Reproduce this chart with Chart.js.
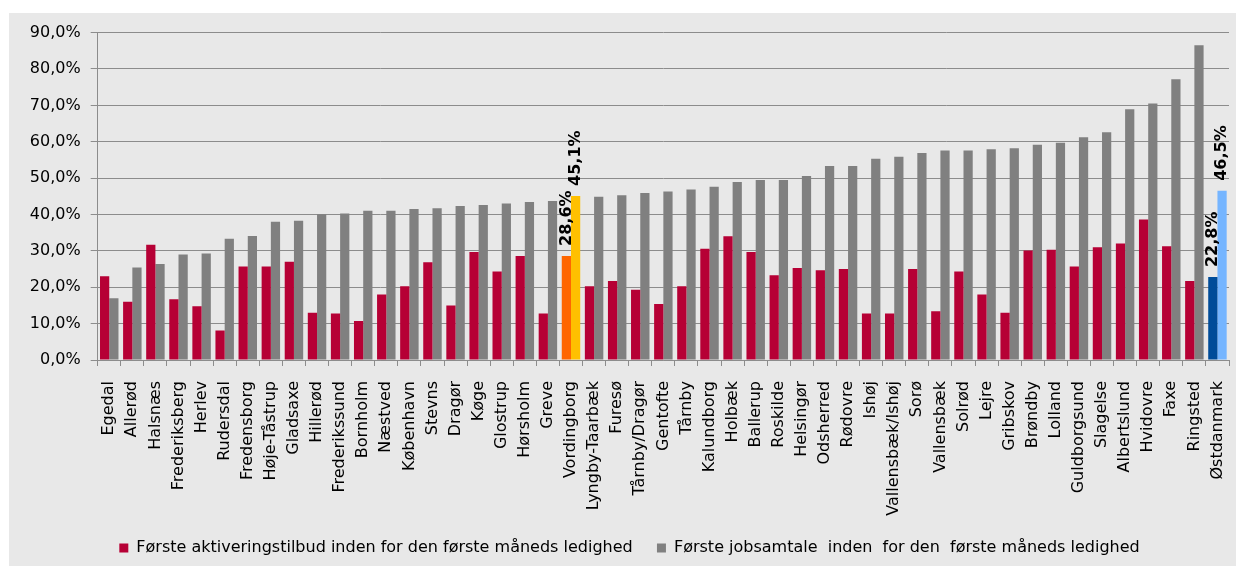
<!DOCTYPE html>
<html>
<head>
<meta charset="utf-8">
<script src="https://cdn.jsdelivr.net/npm/chart.js@4"></script>
<style>
html,body{margin:0;padding:0;background:#fff;width:1236px;height:566px;overflow:hidden}
#wrap{position:absolute;left:9px;top:13px;width:1227px;height:553px;background:#e8e8e8}
</style>
</head>
<body>
<div id="wrap"><canvas id="c"></canvas></div>
<script>
const categories = ['Egedal','Allerød','Halsnæs','Frederiksberg','Herlev','Rudersdal','Fredensborg','Høje-Tåstrup','Gladsaxe','Hillerød','Frederikssund','Bornholm','Næstved','København','Stevns','Dragør','Køge','Glostrup','Hørsholm','Greve','Vordingborg','Lyngby-Taarbæk','Furesø','Tårnby/Dragør','Gentofte','Tårnby','Kalundborg','Holbæk','Ballerup','Roskilde','Helsingør','Odsherred','Rødovre','Ishøj','Vallensbæk/Ishøj','Sorø','Vallensbæk','Solrød','Lejre','Gribskov','Brøndby','Lolland','Guldborgsund','Slagelse','Albertslund','Hvidovre','Faxe','Ringsted','Østdanmark'];
const aktivering = [23.0,16.0,31.7,16.7,14.8,8.1,25.7,25.7,27.0,13.0,12.8,10.7,18.0,20.3,26.9,15.0,29.7,24.3,28.6,12.8,28.6,20.3,21.7,19.3,15.4,20.3,30.6,34.0,29.7,23.3,25.3,24.7,25.0,12.8,12.8,25.0,13.4,24.3,18.0,13.0,30.1,30.3,25.7,31.0,32.0,38.6,31.3,21.7,22.8];
const jobsamtale = [17.0,25.4,26.4,29.0,29.3,33.3,34.1,38.0,38.3,40.1,40.3,41.0,41.0,41.5,41.7,42.3,42.6,43.0,43.4,43.7,45.1,44.9,45.3,45.9,46.3,46.9,47.6,48.9,49.5,49.5,50.6,53.3,53.3,55.3,55.9,56.9,57.6,57.6,57.9,58.2,59.2,59.7,61.2,62.6,68.9,70.5,77.2,86.5,46.5];
const seriesNames = ['Første aktiveringstilbud inden for den første måneds ledighed','Første jobsamtale  inden  for den  første måneds ledighed'];
const yMin = 0, yMax = 90, yStep = 10;
const labelledCategories = ['Vordingborg','Østdanmark'];

const FONT = '"DejaVu Sans", Verdana, sans-serif';
const baseColors = ['#B60035', '#808080'];
const highlightColors = { 'Vordingborg': ['#FF6600', '#FFC000'], 'Østdanmark': ['#004C99', '#75B5FF'] };
const colorsFor = (si) => categories.map(c => highlightColors[c] ? highlightColors[c][si] : baseColors[si]);
const fmt = v => v.toFixed(1).replace('.', ',') + '%';
const GRID = '#8C8C8C';

const valueLabels = {
  id: 'valueLabels',
  afterDatasetsDraw(chart) {
    const ctx = chart.ctx;
    ctx.save();
    ctx.font = 'bold 16px ' + FONT;
    ctx.fillStyle = '#000';
    ctx.textAlign = 'left';
    ctx.textBaseline = 'middle';
    chart.data.datasets.forEach((ds, di) => {
      const meta = chart.getDatasetMeta(di);
      labelledCategories.forEach(name => {
        const i = categories.indexOf(name);
        const el = meta.data[i];
        if (!el) return;
        ctx.save();
        ctx.translate(el.x, el.y - 10);
        ctx.rotate(-Math.PI / 2);
        ctx.fillText(fmt(ds.data[i]), 0, 0);
        ctx.restore();
      });
    });
    ctx.restore();
  }
};

new Chart(document.getElementById('c'), {
  type: 'bar',
  data: {
    labels: categories,
    datasets: [
      { label: seriesNames[0], data: aktivering, backgroundColor: colorsFor(0), borderWidth: 0 },
      { label: seriesNames[1], data: jobsamtale, backgroundColor: colorsFor(1), borderWidth: 0 }
    ]
  },
  options: {
    responsive: true,
    maintainAspectRatio: false,
    animation: false,
    layout: { padding: { top: 17.5, right: 7, left: 21, bottom: 0 } },
    datasets: { bar: { categoryPercentage: 0.8, barPercentage: 1.0 } },
    plugins: {
      legend: {
        position: 'bottom',
        labels: {
          font: { family: FONT, size: 16 },
          color: '#000',
          boxWidth: 9,
          boxHeight: 9,
          padding: 9,
          generateLabels: (chart) => {
            const items = Chart.defaults.plugins.legend.labels.generateLabels(chart);
            items.forEach((it, k) => { if (k < items.length - 1) it.text = it.text + '   '; });
            return items;
          }
        }
      },
      tooltip: { enabled: false }
    },
    scales: {
      x: {
        grid: { offset: true, drawOnChartArea: false, drawTicks: true, tickLength: 6, color: GRID },
        border: { display: true, color: GRID, width: 1 },
        ticks: { autoSkip: false, maxRotation: 90, minRotation: 90, padding: 15, color: '#000', font: { family: FONT, size: 16 } },
        afterFit: s => { s.height = 171; s.paddingLeft = 0; s.paddingRight = 0; }
      },
      y: {
        min: yMin, max: yMax,
        grid: { color: GRID, tickLength: 7, lineWidth: 1 },
        border: { display: true, color: GRID, width: 1 },
        ticks: { stepSize: yStep, padding: 10, color: '#000', font: { family: FONT, size: 16 }, callback: v => fmt(v) },
        afterFit: s => { s.width = 67.7; }
      }
    }
  },
  plugins: [valueLabels]
});
</script>
</body>
</html>
